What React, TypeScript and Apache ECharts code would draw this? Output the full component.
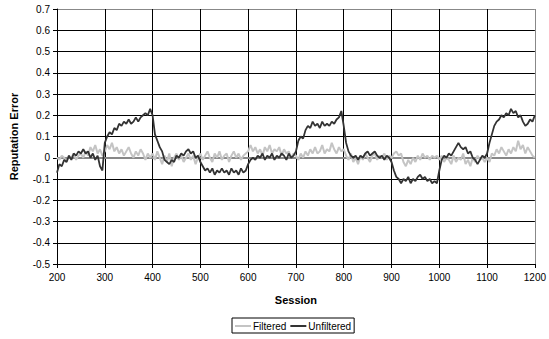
import React, { useEffect, useRef } from "react";
import * as echarts from "echarts";

const SESSION_START = 200;
const SESSION_STEP = 5;

const unfiltered: number[] = [
  // 200-295
  -0.07, -0.03, -0.04, -0.01, -0.02, 0.01, -0.01, 0.02, 0.01, 0.03, 0.02, 0.04, 0.02, 0.03, 0.0, 0.02, -0.01, 0.01, -0.04, -0.06,
  // 300-395
  0.07, 0.1, 0.12, 0.11, 0.14, 0.13, 0.16, 0.15, 0.17, 0.16, 0.18, 0.16, 0.17, 0.19, 0.17, 0.19, 0.2, 0.21, 0.2, 0.23,
  // 400-495
  0.2, 0.11, 0.08, 0.05, 0.03, -0.01, -0.02, -0.03, -0.01, -0.02, 0.01, 0.0, 0.02, 0.01, 0.03, 0.04, 0.02, 0.03, 0.0, 0.01,
  // 500-595
  -0.02, -0.04, -0.06, -0.05, -0.07, -0.05, -0.08, -0.06, -0.07, -0.05, -0.07, -0.06, -0.08, -0.05, -0.07, -0.06, -0.08, -0.05, -0.07, -0.06,
  // 600-695
  -0.03, -0.01, 0.0, -0.01, 0.01, 0.0, 0.02, -0.01, 0.01, 0.0, 0.02, -0.01, 0.01, 0.0, 0.02, 0.01, -0.01, 0.02, 0.0, 0.01,
  // 700-795
  0.03, 0.08, 0.1, 0.09, 0.13, 0.15, 0.14, 0.17, 0.15, 0.16, 0.14, 0.17, 0.15, 0.16, 0.15, 0.17, 0.16, 0.18, 0.19, 0.22,
  // 800-895
  0.15, 0.07, 0.03, 0.01, 0.0, 0.01, -0.01, 0.01, 0.0, 0.02, 0.03, 0.01, 0.02, 0.03, 0.01, 0.0, 0.01, -0.01, 0.01, 0.0,
  // 900-995
  -0.02, -0.06, -0.09, -0.1, -0.12, -0.1, -0.11, -0.09, -0.12, -0.1, -0.11, -0.09, -0.08, -0.1, -0.09, -0.11, -0.1, -0.12, -0.11, -0.12,
  // 1000-1095
  -0.06, -0.01, 0.01, 0.0, 0.02, 0.01, 0.03, 0.05, 0.07, 0.05, 0.04, 0.05, 0.02, 0.03, 0.0, -0.01, -0.03, -0.01, 0.01, 0.0,
  // 1100-1200
  0.02, 0.07, 0.11, 0.15, 0.17, 0.18, 0.2, 0.19, 0.21, 0.2, 0.23, 0.21, 0.22, 0.19, 0.2, 0.17, 0.15, 0.16, 0.18, 0.17, 0.2,
];

const filtered: number[] = [
  // 200-295
  0.0, -0.01, 0.01, 0.0, -0.02, 0.01, 0.0, 0.02, -0.01, 0.01, 0.02, 0.0, 0.03, 0.01, 0.05, 0.03, 0.06, 0.02, 0.04, 0.01,
  // 300-395
  0.03, 0.06, 0.04, 0.07, 0.03, 0.05, 0.02, 0.04, 0.01, 0.03, 0.05, 0.02, 0.0, 0.03, 0.01, 0.04, 0.02, -0.01, 0.02, 0.0,
  // 400-495
  0.02, -0.01, 0.03, 0.0, -0.03, 0.01, -0.02, 0.02, -0.04, 0.0, 0.02, -0.01, 0.01, -0.02, 0.0, 0.02, -0.01, 0.01, -0.03, 0.0,
  // 500-595
  0.02, -0.01, 0.01, 0.03, 0.0, -0.02, 0.02, 0.0, 0.03, -0.01, 0.01, 0.02, -0.02, 0.01, 0.03, 0.0, 0.02, -0.01, 0.01, 0.02,
  // 600-695
  0.03, 0.06, 0.03, 0.05, 0.02, 0.04, 0.01, 0.05, 0.03, 0.06, 0.02, 0.04, 0.03, 0.05, 0.01, 0.04, 0.02, 0.03, 0.0, 0.02,
  // 700-795
  0.01, -0.01, 0.02, 0.0, 0.03, 0.01, 0.04, 0.02, 0.05, 0.02, 0.03, 0.06, 0.02, 0.04, 0.03, 0.07, 0.04, 0.02, 0.05, 0.03,
  // 800-895
  0.04, 0.01, -0.01, 0.02, -0.02, 0.0, -0.03, 0.01, -0.01, 0.02, 0.0, -0.02, 0.01, 0.02, -0.01, 0.01, 0.0, 0.02, -0.01, 0.01,
  // 900-995
  0.0, 0.02, 0.03, 0.01, 0.02, -0.02, -0.04, -0.01, -0.03, 0.0, -0.02, 0.01, -0.01, 0.02, 0.0, 0.01, -0.01, 0.01, 0.0, 0.01,
  // 1000-1095
  -0.01, 0.01, -0.02, 0.0, -0.01, -0.03, 0.01, -0.02, 0.0, -0.01, 0.02, -0.03, -0.01, -0.04, 0.0, -0.02, 0.01, -0.01, 0.0, -0.02,
  // 1100-1200
  0.0, -0.02, 0.02, 0.01, 0.04, 0.02, 0.05, 0.03, 0.01, 0.04, 0.02, 0.05, 0.03, 0.08, 0.04, 0.06, 0.02, 0.05, 0.03, 0.01, 0.0,
];

const FONT = "'Liberation Sans', Arial, sans-serif";
const LINE_ICON = "rect";

function toPairs(values: number[]): [number, number][] {
  return values.map((v, i) => [SESSION_START + i * SESSION_STEP, v]);
}

export default function App() {
  const ref = useRef<HTMLDivElement>(null);
  useEffect(() => {
    if (!ref.current) return;
    const chart = echarts.init(ref.current, undefined, { renderer: "svg" });
    const ySplitColors: string[] = [];
    for (let i = 0; i < 13; i++) ySplitColors.push(i === 12 ? "#888888" : "#000000");
    const xSplitColors: string[] = [];
    for (let i = 0; i < 11; i++) xSplitColors.push(i === 10 ? "#888888" : "#000000");
    chart.setOption({
      animation: false,
      backgroundColor: "#ffffff",
      textStyle: { fontFamily: FONT },
      grid: { left: 52, right: 12, top: 9, bottom: 75, containLabel: false },
      legend: {
        data: [
          { name: "Filtered", icon: LINE_ICON },
          { name: "Unfiltered", icon: LINE_ICON },
        ],
        bottom: 6,
        left: 232,
        orient: "horizontal",
        borderColor: "#000",
        borderWidth: 1,
        borderRadius: 0,
        padding: [3, 3, 2, 3],
        itemGap: 4,
        itemWidth: 16,
        itemHeight: 2,
        textStyle: { fontFamily: FONT, fontSize: 10, color: "#000", padding: [0, 0, 0, -3] },
      },
      xAxis: {
        type: "value",
        min: 200,
        max: 1200,
        interval: 100,
        name: "Session",
        nameLocation: "middle",
        nameGap: 30,
        nameTextStyle: { fontFamily: FONT, fontSize: 11, fontWeight: "bold", color: "#000" },
        axisLine: { onZero: false, lineStyle: { color: "#000", width: 1 } },
        axisTick: { show: true, length: 4, inside: false, lineStyle: { color: "#000" } },
        axisLabel: {
          fontFamily: FONT,
          fontSize: 10,
          color: "#000",
          margin: 8,
          formatter: (v: number) => String(v),
        },
        splitLine: { show: true, lineStyle: { color: xSplitColors, width: 1 } },
      },
      yAxis: {
        type: "value",
        min: -0.5,
        max: 0.7,
        interval: 0.1,
        name: "Reputation Error",
        nameLocation: "middle",
        nameGap: 38,
        nameTextStyle: { fontFamily: FONT, fontSize: 11, fontWeight: "bold", color: "#000" },
        axisLine: { show: true, onZero: false, lineStyle: { color: "#000", width: 1 } },
        axisTick: { show: true, length: 4, inside: false, lineStyle: { color: "#000" } },
        axisLabel: {
          fontFamily: FONT,
          fontSize: 10,
          color: "#000",
          margin: 7,
          formatter: (v: number) => (Math.abs(v) < 1e-9 ? "0" : v.toFixed(1)),
        },
        splitLine: { show: true, lineStyle: { color: ySplitColors, width: 1 } },
      },
      series: [
        {
          name: "Filtered",
          type: "line",
          data: toPairs(filtered),
          showSymbol: false,
          symbol: "none",
          lineStyle: { color: "#c4c4c4", width: 2 },
          itemStyle: { color: "#c4c4c4" },
          z: 3,
          markLine: {
            silent: true,
            symbol: "none",
            label: { show: false },
            lineStyle: { color: "#888888", width: 2, type: "solid" },
            data: [{ yAxis: 0 }],
            z: 1,
          },
        },
        {
          name: "Unfiltered",
          type: "line",
          data: toPairs(unfiltered),
          showSymbol: false,
          symbol: "none",
          lineStyle: { color: "#333333", width: 1.8 },
          itemStyle: { color: "#333333" },
          z: 4,
        },
      ],
    });
    return () => chart.dispose();
  }, []);
  return (
    <div
      ref={ref}
      style={{ position: "absolute", left: 0, top: 0, width: 549, height: 339 }}
    />
  );
}
